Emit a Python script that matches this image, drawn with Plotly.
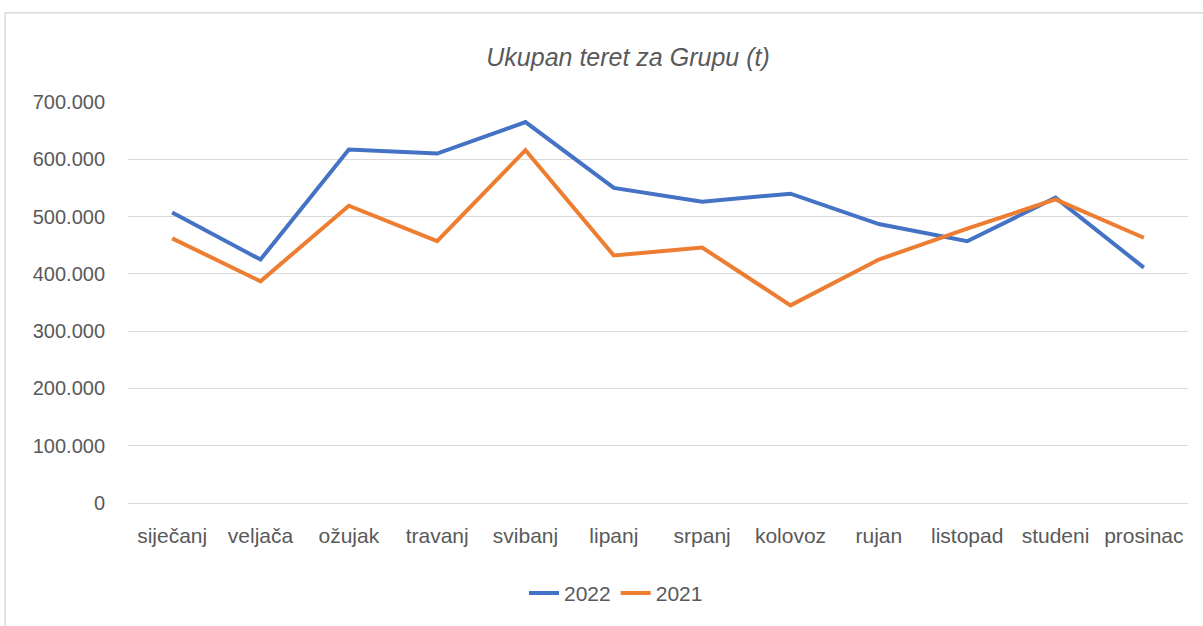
import plotly.graph_objects as go

months = ["siječanj", "veljača", "ožujak", "travanj", "svibanj", "lipanj",
          "srpanj", "kolovoz", "rujan", "listopad", "studeni", "prosinac"]
v2022 = [507000, 425000, 617000, 610000, 665000, 550000,
         526000, 540000, 487000, 457000, 533000, 411000]
v2021 = [462000, 387000, 519000, 457000, 616000, 432000,
         446000, 345000, 425000, 479000, 530000, 463000]
y_ticks = [0, 100000, 200000, 300000, 400000, 500000, 600000, 700000]

W, H = 1203, 626
L, R, T, B = 128, 15, 102, 120
pw, ph = W - L - R, H - T - B


def px_x(x):
    return (x - L) / pw


def px_y(y):
    return (T + ph - y) / ph


fig = go.Figure()
fig.add_trace(go.Scatter(x=months, y=v2022, name="2022", mode="lines",
                         line=dict(color="#4472C4", width=4)))
fig.add_trace(go.Scatter(x=months, y=v2021, name="2021", mode="lines",
                         line=dict(color="#ED7D31", width=4)))

border = dict(color="#D9D9D9", width=1.5)
fig.update_layout(
    width=W, height=H,
    margin=dict(l=L, r=R, t=T, b=B),
    paper_bgcolor="white", plot_bgcolor="white",
    separators=",.",
    font=dict(family="Liberation Sans, Arial, sans-serif", size=19, color="#595959"),
    title=dict(text="<i>Ukupan teret za Grupu (t)</i>", x=628 / W, xanchor="center",
               y=1 - 57 / H, yanchor="middle",
               font=dict(size=25, color="#595959")),
    showlegend=True,
    legend=dict(orientation="h", x=px_x(616), xanchor="center",
                y=px_y(597), yanchor="middle",
                font=dict(size=21, color="#595959"), traceorder="normal"),
    xaxis=dict(type="category", showgrid=False, showline=False, ticks="",
               tickfont=dict(size=21, color="#595959"), ticklabelstandoff=18,
               range=[-0.5, 11.5]),
    yaxis=dict(range=[0, 700000], tickvals=y_ticks, tickformat=",d",
               showgrid=True, gridcolor="#D9D9D9", gridwidth=1,
               zeroline=True, zerolinecolor="#D9D9D9", zerolinewidth=1,
               showline=False, ticks="", ticklabelstandoff=22,
               tickfont=dict(size=20, color="#595959")),
    shapes=[
        dict(type="line", xref="paper", yref="paper",
             x0=px_x(5), x1=px_x(1210), y0=px_y(12), y1=px_y(12),
             line=border, layer="below"),
        dict(type="line", xref="paper", yref="paper",
             x0=px_x(5), x1=px_x(5), y0=px_y(12), y1=px_y(640),
             line=border, layer="below"),
    ],
)

fig.write_html("out.html", config={"displayModeBar": False},
               post_script="document.body.style.margin='0';document.body.style.overflow='hidden';")
